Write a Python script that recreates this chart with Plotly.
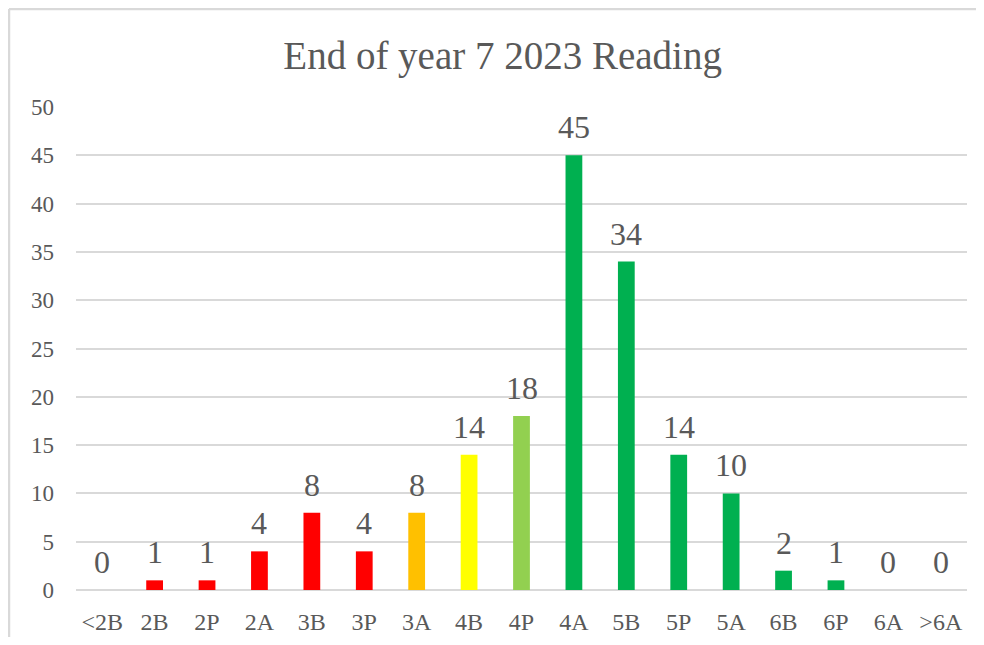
import plotly.graph_objects as go

categories = ["<2B", "2B", "2P", "2A", "3B", "3P", "3A", "4B", "4P", "4A", "5B", "5P", "5A", "6B", "6P", "6A", ">6A"]
counts = [0, 1, 1, 4, 8, 4, 8, 14, 18, 45, 34, 14, 10, 2, 1, 0, 0]
bar_colors = ["#FF0000"] * 6 + ["#FFC000", "#FFFF00", "#92D050"] + ["#00B050"] * 8
y_ticks = [0, 5, 10, 15, 20, 25, 30, 35, 40, 45, 50]

FONT = "Liberation Serif"
GREY = "#595959"

fig = go.Figure()
fig.add_trace(go.Bar(
    x=categories, y=counts,
    marker=dict(color=bar_colors, line=dict(width=0)),
    hoverinfo="x+y",
))

for c, v in zip(categories, counts):
    fig.add_annotation(x=c, y=v, text=str(v), showarrow=False,
                       yanchor="bottom", yshift=8,
                       font=dict(family=FONT, size=32, color=GREY))

# chart frame (top and left edges visible)
fig.add_shape(type="line", xref="paper", yref="paper",
              x0=-0.0752, x1=1.1, y0=1.203, y1=1.203,
              line=dict(color="#d9d9d9", width=2.5), layer="below")
fig.add_shape(type="line", xref="paper", yref="paper",
              x0=-0.0752, x1=-0.0752, y0=-0.3, y1=1.203,
              line=dict(color="#d9d9d9", width=2.5), layer="below")

fig.update_layout(
    width=968, height=629,
    margin=dict(l=68, r=9, t=99, b=47),
    paper_bgcolor="white", plot_bgcolor="white",
    bargap=0.68,
    showlegend=False,
    title=dict(text="End of year 7 2023 Reading", x=0.511, xanchor="center",
               y=0.925, yanchor="middle",
               font=dict(family=FONT, size=39, color=GREY)),
    font=dict(family=FONT, color=GREY),
)
fig.update_xaxes(showgrid=False, showline=False, zeroline=False, ticks="", automargin=False,
                 tickfont=dict(family=FONT, size=24, color=GREY), ticklabelstandoff=15)
fig.update_yaxes(range=[0, 50], tickvals=y_ticks, showgrid=True, gridcolor="#d9d9d9",
                 gridwidth=1.5, zeroline=True, zerolinecolor="#d9d9d9", zerolinewidth=1.5,
                 showline=False, ticks="", ticklabelstandoff=21, automargin=False,
                 tickfont=dict(family=FONT, size=23, color=GREY))

fig.write_html("out.html")
